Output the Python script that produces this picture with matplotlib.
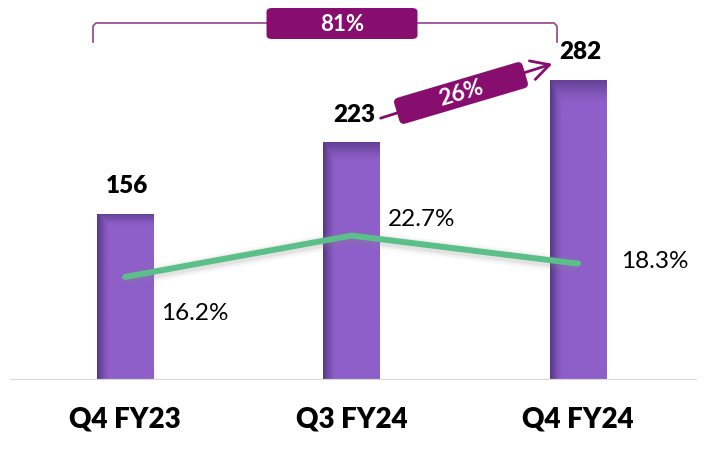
import numpy as np
import matplotlib.pyplot as plt
from matplotlib.patches import FancyBboxPatch, FancyArrowPatch
import matplotlib.transforms as mtransforms

plt.rcParams['font.family'] = ['Lato', 'DejaVu Sans']

quarters = ["Q4 FY23", "Q3 FY24", "Q4 FY24"]
revenue = [156, 223, 282]
margin = [16.2, 22.7, 18.3]
growth_total = "81%"
growth_qoq = "26%"

bar_color = np.array([0x8E, 0x5F, 0xC9]) / 255
dark_color = np.array([0x48, 0x2E, 0x74]) / 255
line_color = "#5BBF8A"
badge_color = "#870E6E"


def bar_gradient(n=80):
    # darker on the left edge and along the top, like the original shading
    xs = np.linspace(0, 1, n)
    ys = np.linspace(0, 1, n)
    left = np.clip(1 - xs / 0.22, 0, 1) ** 1.4 * 0.8
    top = np.clip((ys - 0.93) / 0.07, 0, 1) ** 1.2 * 0.6
    shade = np.maximum(top[:, None], left[None, :])
    img = bar_color[None, None, :] * (1 - shade[..., None]) + dark_color[None, None, :] * shade[..., None]
    return img


fig = plt.figure(figsize=(7.08, 4.69), dpi=100)
ax = fig.add_axes([10 / 708, 89 / 469, 687 / 708, 360 / 469])
ax2 = ax.twinx()

x = np.arange(len(quarters))
width = 0.25
ax.set_xlim(-0.508, 2.525)
ax.set_ylim(0, 338)
ax2.set_ylim(0, 56.6)

bars = ax.bar(x, revenue, width=width, color=bar_color, zorder=1)
grad = bar_gradient()
for b in bars:
    bx, bw, bh = b.get_x(), b.get_width(), b.get_height()
    im = ax.imshow(grad, extent=(bx, bx + bw, 0, bh), origin='lower', aspect='auto', zorder=2)
    im.set_clip_path(b)

ax.axhline(0, color="#D9D9D9", lw=1.6, zorder=3)

# value labels
for i, v in enumerate(revenue):
    ax.text(x[i] + 0.01, v + 26, str(v), ha='center', va='center', fontsize=17.5,
            fontweight='heavy', color='black')

# margin line with a soft shadow
shadow = mtransforms.offset_copy(ax2.transData, fig=fig, x=0, y=-2, units='dots')
for lw, a in [(12, 0.06), (9, 0.08), (6.5, 0.12)]:
    ax2.plot(x, margin, color='#888888', lw=lw, alpha=a, solid_capstyle='butt',
             transform=shadow, zorder=4)
ax2.plot(x, margin, color=line_color, lw=4.3, solid_capstyle='round', zorder=5)
offsets = [(0.31, -5.8), (0.31, 2.6), (0.34, 0.3)]
for i, m in enumerate(margin):
    dx, dy = offsets[i]
    ax2.text(x[i] + dx, m + dy, f"{m:.1f}%", ha='center', va='center', fontsize=17.5, color='black')

ax.set_xticks(x)
ax.set_xticklabels(quarters, fontsize=20, fontweight='heavy')
ax.tick_params(axis='x', length=0, pad=19)
ax.set_yticks([])
ax2.set_yticks([])
for a in (ax, ax2):
    for s in a.spines.values():
        s.set_visible(False)
ax.set_zorder(1)
ax2.set_zorder(2)
ax.patch.set_visible(False)


# annotations placed in figure pixels (y measured from the top)
def px(xp, yp):
    return xp / 708, 1 - yp / 469


bx0, bx1, by, bty = 93, 557, 23, 42
fig.lines.append(plt.Line2D(*zip(px(bx0, bty), px(bx0, by + 3), px(bx0 + 3, by), px(bx1 - 3, by),
                                 px(bx1, by + 3), px(bx1, bty)),
                            transform=fig.transFigure, color="#94428C", lw=1.2))
bw, bh = 151, 31
box = FancyBboxPatch(px(342 - bw / 2, 23.5 + bh / 2), bw / 708, bh / 469,
                     boxstyle="round,pad=0,rounding_size=0.008", transform=fig.transFigure,
                     facecolor=badge_color, edgecolor='none', zorder=5)
fig.patches.append(box)
fig.text(*px(342, 24.5), growth_total, ha='center', va='center', color='white', fontsize=16,
         fontweight='bold', zorder=6)

# quarter-on-quarter arrow with rotated badge
fig.patches.append(FancyArrowPatch(
    px(378, 119), px(555, 63), transform=fig.transFigure,
    arrowstyle='->,head_length=13,head_width=7', color=badge_color, lw=2.0,
    mutation_scale=1, zorder=4))
ang = 16.5
cx, cy = 461, 93
w2, h2 = 134, 27
rot = mtransforms.Affine2D().rotate_deg_around(cx, 469 - cy, ang)
rbox = FancyBboxPatch((cx - w2 / 2, 469 - cy - h2 / 2), w2, h2, boxstyle="round,pad=0,rounding_size=5",
                      facecolor=badge_color, edgecolor='none', zorder=5,
                      transform=rot + mtransforms.IdentityTransform())
fig.patches.append(rbox)
fig.text(*px(cx, cy), growth_qoq, ha='center', va='center', color='white', fontsize=16.5,
         fontweight='bold', rotation=ang, rotation_mode='anchor', zorder=6)

fig.savefig("out.png", dpi=100)
